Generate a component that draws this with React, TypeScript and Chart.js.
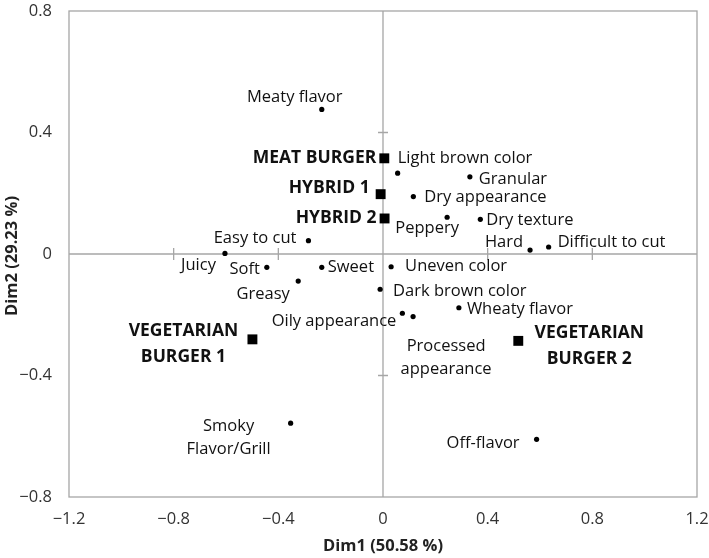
import React, { useEffect, useRef } from "react";
import { Chart, registerables } from "chart.js";

Chart.register(...registerables);

// ---- data ----
const attributeNames = [
  "Meaty flavor",
  "Light brown color",
  "Granular",
  "Dry appearance",
  "Peppery",
  "Dry texture",
  "Hard",
  "Difficult to cut",
  "Easy to cut",
  "Juicy",
  "Soft",
  "Sweet",
  "Uneven color",
  "Greasy",
  "Dark brown color",
  "Oily appearance",
  "Processed\nappearance",
  "Wheaty flavor",
  "Smoky\nFlavor/Grill",
  "Off-flavor",
];
const attributeDim1 = [
  -0.234, 0.056, 0.332, 0.116, 0.245, 0.372, 0.562, 0.633, -0.285, -0.604,
  -0.444, -0.234, 0.031, -0.324, -0.011, 0.074, 0.115, 0.29, -0.353, 0.587,
];
const attributeDim2 = [
  0.476, 0.266, 0.254, 0.189, 0.121, 0.114, 0.013, 0.023, 0.044, 0.002,
  -0.044, -0.044, -0.042, -0.089, -0.116, -0.195, -0.206, -0.177, -0.557, -0.61,
];

const productNames = [
  "MEAT BURGER",
  "HYBRID 1",
  "HYBRID 2",
  "VEGETARIAN\nBURGER 1",
  "VEGETARIAN\nBURGER 2",
];
const productDim1 = [0.005, -0.009, 0.006, -0.499, 0.517];
const productDim2 = [0.315, 0.197, 0.117, -0.281, -0.286];

const xTicks = [-1.2, -0.8, -0.4, 0, 0.4, 0.8, 1.2];
const yTicks = [-0.8, -0.4, 0, 0.4, 0.8];
const xTitle = "Dim1 (50.58 %)";
const yTitle = "Dim2 (29.23 %)";

// ---- label placement (style, not data): [align, dx, dy] ----
const attributeLabelPlacement: [CanvasTextAlign, number, number][] = [
  ["center", -27, -12],
  ["left", 0, -15],
  ["left", 9, 2],
  ["left", 11, 1],
  ["center", -20, 11],
  ["left", 6, 1],
  ["right", -7, -8],
  ["left", 9, -5],
  ["right", -12, -2],
  ["right", -9, 12],
  ["right", -7, 2],
  ["left", 6, 0],
  ["left", 14, 0],
  ["center", -35, 13],
  ["left", 13, 2],
  ["right", -6, 8],
  ["center", 33, 30],
  ["left", 8, 2],
  ["center", -62, 3],
  ["right", -17, 4],
];
const productLabelPlacement: [CanvasTextAlign, number, number][] = [
  ["right", -8, 0],
  ["right", -11, -6],
  ["right", -8, 0],
  ["center", -69, -8],
  ["center", 71, -8],
];

const FONT = "'Open Sans', sans-serif";
const AXIS_COLOR = "#a6a6a6";

const fmt = (v: number) => {
  if (Math.abs(v) < 1e-9) return "0";
  return (v < 0 ? "\u2212" : "") + Math.abs(v).toFixed(1);
};

const overlayPlugin = {
  id: "overlay",
  beforeDatasetsDraw(chart: any) {
    const { ctx, chartArea, scales } = chart;
    const x = scales.x;
    const y = scales.y;
    ctx.save();
    ctx.strokeStyle = AXIS_COLOR;
    ctx.lineWidth = 1.3;
    ctx.strokeRect(chartArea.left, chartArea.top, chartArea.right - chartArea.left, chartArea.bottom - chartArea.top);
    const x0 = x.getPixelForValue(0);
    const y0 = y.getPixelForValue(0);
    ctx.beginPath();
    ctx.moveTo(x0, chartArea.top);
    ctx.lineTo(x0, chartArea.bottom);
    ctx.moveTo(chartArea.left, y0);
    ctx.lineTo(chartArea.right, y0);
    xTicks.forEach((t) => {
      if (t === 0 || Math.abs(t) > 1.1) return;
      const px = x.getPixelForValue(t);
      ctx.moveTo(px, y0 - 6);
      ctx.lineTo(px, y0 + 6);
    });
    yTicks.forEach((t) => {
      if (t === 0 || Math.abs(t) > 0.7) return;
      const py = y.getPixelForValue(t);
      ctx.moveTo(x0 - 5, py);
      ctx.lineTo(x0 + 5, py);
    });
    ctx.stroke();

    ctx.fillStyle = "#222";
    ctx.font = `bold 16.5px ${FONT}`;
    ctx.textAlign = "center";
    ctx.textBaseline = "middle";
    ctx.fillText(xTitle, x0, 546);
    ctx.save();
    ctx.translate(12, (chartArea.top + chartArea.bottom) / 2 + 2);
    ctx.rotate(-Math.PI / 2);
    ctx.fillText(yTitle, 0, 0);
    ctx.restore();
    ctx.restore();
  },
  afterDatasetsDraw(chart: any) {
    const { ctx, scales } = chart;
    const x = scales.x;
    const y = scales.y;
    ctx.save();
    ctx.fillStyle = "#111";
    ctx.textBaseline = "middle";
    const drawSet = (
      names: string[],
      xs: number[],
      ys: number[],
      place: [CanvasTextAlign, number, number][],
      font: string,
      lh: number
    ) => {
      ctx.font = font;
      names.forEach((n, i) => {
        const [align, dx, dy] = place[i];
        const px = x.getPixelForValue(xs[i]);
        const py = y.getPixelForValue(ys[i]);
        ctx.textAlign = align;
        n.split("\n").forEach((line, j) => {
          ctx.fillText(line, px + dx, py + dy + j * lh);
        });
      });
    };
    drawSet(attributeNames, attributeDim1, attributeDim2, attributeLabelPlacement, `16.5px ${FONT}`, 23);
    drawSet(productNames, productDim1, productDim2, productLabelPlacement, `bold 17.5px ${FONT}`, 26);
    ctx.restore();
  },
};

const zeroPad = (s: any) => {
  s.paddingTop = 0;
  s.paddingBottom = 0;
  s.paddingLeft = 0;
  s.paddingRight = 0;
};

export default function App() {
  const ref = useRef<HTMLCanvasElement | null>(null);
  useEffect(() => {
    if (!ref.current) return;
    const chart = new Chart(ref.current, {
      type: "scatter",
      data: {
        datasets: [
          {
            label: "Attributes",
            data: attributeDim1.map((v, i) => ({ x: v, y: attributeDim2[i] })),
            pointStyle: "circle",
            pointRadius: 2.6,
            backgroundColor: "#000",
            borderColor: "#000",
            borderWidth: 0,
          },
          {
            label: "Products",
            data: productDim1.map((v, i) => ({ x: v, y: productDim2[i] })),
            pointStyle: "rect",
            pointRadius: 7,
            backgroundColor: "#000",
            borderColor: "#000",
            borderWidth: 0,
          },
        ],
      },
      options: {
        animation: false,
        responsive: false,
        maintainAspectRatio: false,
        layout: { padding: { top: 11, right: 12, left: 0, bottom: 0 } },
        plugins: { legend: { display: false }, tooltip: { enabled: false } },
        scales: {
          x: {
            type: "linear",
            min: -1.2,
            max: 1.2,
            afterBuildTicks: (s: any) => {
              s.ticks = xTicks.map((v) => ({ value: v }));
            },
            afterFit: (s: any) => {
              s.height = 61;
              zeroPad(s);
            },
            grid: { display: false, drawTicks: false },
            border: { display: false },
            ticks: {
              padding: 12,
              color: "#333",
              font: { family: FONT, size: 16.5 },
              callback: (v: any) => fmt(Number(v)),
            },
          },
          y: {
            type: "linear",
            min: -0.8,
            max: 0.8,
            afterBuildTicks: (s: any) => {
              s.ticks = yTicks.map((v) => ({ value: v }));
            },
            afterFit: (s: any) => {
              s.width = 69;
              zeroPad(s);
            },
            grid: { display: false, drawTicks: false },
            border: { display: false },
            ticks: {
              padding: 17,
              color: "#333",
              font: { family: FONT, size: 16.5 },
              callback: (v: any) => fmt(Number(v)),
            },
          },
        },
      },
      plugins: [overlayPlugin],
    });
    return () => chart.destroy();
  }, []);
  return (
    <div style={{ position: "fixed", left: 0, top: 0, width: 709, height: 558, background: "#fff" }}>
      <canvas ref={ref} width={709} height={558} style={{ width: 709, height: 558 }} />
    </div>
  );
}
